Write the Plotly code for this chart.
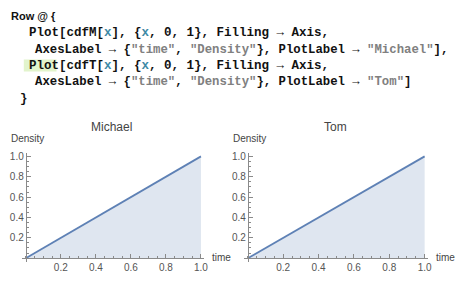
import plotly.graph_objects as go

# ---- data ----
time_points = [0.0, 1.0]
cdf_michael = [0.0, 1.0]
cdf_tom = [0.0, 1.0]
tick_vals = [0.2, 0.4, 0.6, 0.8, 1.0]
tick_text = ["0.2", "0.4", "0.6", "0.8", "1.0"]
panel_titles = ["Michael", "Tom"]
axis_labels = ["time", "Density"]

W, H = 467, 282
def px(v):
    return v / W
def py(v):
    return 1 - v / H

LINE = "#5E81B5"
FILL = "rgba(94,129,181,0.2)"
AXC = "#8a8a8a"
TXT = "#555555"

fig = go.Figure()
fig.add_trace(go.Scatter(x=time_points, y=cdf_michael, mode="lines",
                         line=dict(color=LINE, width=1.8), fill="tozeroy",
                         fillcolor=FILL, xaxis="x", yaxis="y", hoverinfo="skip"))
fig.add_trace(go.Scatter(x=time_points, y=cdf_tom, mode="lines",
                         line=dict(color=LINE, width=1.8), fill="tozeroy",
                         fillcolor=FILL, xaxis="x2", yaxis="y2", hoverinfo="skip"))

# pixel geometry of the two panels
y0_px, yunit = 258.0, 102.5
yr = [-0.04, 1.03]
ydom = [py(y0_px - yr[0] * yunit), py(y0_px - yr[1] * yunit)]
xr = [-0.023, 1.02]
panels = [(26.0, 176.7), (250.0, 178.3)]

tickfont = dict(family="Liberation Sans", size=10, color=TXT)

def xaxis_cfg(x0, unit):
    return dict(domain=[px(x0 + xr[0] * unit), px(x0 + xr[1] * unit)], range=xr,
                anchor="free", position=py(y0_px), showline=True, linecolor=AXC,
                linewidth=1, ticks="inside", ticklen=4, tickcolor=AXC,
                tickmode="array", tickvals=tick_vals, ticktext=tick_text,
                tickfont=tickfont, showgrid=False, zeroline=False, fixedrange=True,
                minor=dict(dtick=0.05, tick0=0, ticks="inside", ticklen=2,
                           tickcolor=AXC, showgrid=False))

def yaxis_cfg(x0):
    return dict(domain=ydom, range=yr, anchor="free", position=px(x0),
                showline=True, linecolor=AXC, linewidth=1, ticks="inside",
                ticklen=4, tickcolor=AXC, tickmode="array", tickvals=tick_vals,
                ticktext=tick_text, tickfont=tickfont, showgrid=False,
                zeroline=False, fixedrange=True,
                minor=dict(dtick=0.05, tick0=0, ticks="inside", ticklen=2,
                           tickcolor=AXC, showgrid=False))

fig.update_layout(
    xaxis=xaxis_cfg(*panels[0]),
    yaxis=yaxis_cfg(panels[0][0]),
    xaxis2=xaxis_cfg(*panels[1]),
    yaxis2=yaxis_cfg(panels[1][0]),
)

ann = []
# panel labels
for (x0, unit), title, tx in zip(panels, panel_titles, [112, 338]):
    ann.append(dict(x=px(tx), y=py(126), xref="paper", yref="paper", text=title,
                    showarrow=False, xanchor="center", yanchor="middle",
                    font=dict(family="Liberation Sans", size=12, color="#444444")))
    ann.append(dict(x=px(x0 - 17), y=py(137), xref="paper", yref="paper",
                    text=axis_labels[1], showarrow=False, xanchor="left",
                    yanchor="middle",
                    font=dict(family="Liberation Sans", size=10, color="#444444")))
    ann.append(dict(x=px(x0 + xr[1] * unit + 6), y=py(257), xref="paper",
                    yref="paper", text=axis_labels[0], showarrow=False,
                    xanchor="left", yanchor="middle",
                    font=dict(family="Liberation Sans", size=10, color="#444444")))

# code cell
V = "#3E8AA6"
S = "#808080"
def v(t):
    return f'<span style="color:{V}">{t}</span>'
def s(t):
    return f'<span style="color:{S}">{t}</span>'

code_lines = [
    (9, 14, "Row @ {", "Liberation Sans", 11),
    (27, 31, f"Plot[cdfM[{v('x')}], {{{v('x')}, 0, 1}}, Filling \u2192 Axis,", "Liberation Mono", 12.5),
    (33, 48, f"AxesLabel \u2192 {{{s(chr(34) + 'time' + chr(34))}, {s(chr(34) + 'Density' + chr(34))}}}, PlotLabel \u2192 {s(chr(34) + 'Michael' + chr(34))}],", "Liberation Mono", 12.3),
    (27, 64, f"Plot[cdfT[{v('x')}], {{{v('x')}, 0, 1}}, Filling \u2192 Axis,", "Liberation Mono", 12.5),
    (33, 81, f"AxesLabel \u2192 {{{s(chr(34) + 'time' + chr(34))}, {s(chr(34) + 'Density' + chr(34))}}}, PlotLabel \u2192 {s(chr(34) + 'Tom' + chr(34))}]", "Liberation Mono", 12.3),
    (18, 98, "}", "Liberation Mono", 12.5),
]
for x, y, t, fam, size in code_lines:
    ann.append(dict(x=px(x), y=py(y), xref="paper", yref="paper", text=f"<b>{t}</b>",
                    showarrow=False, xanchor="left", yanchor="middle",
                    font=dict(family=fam, size=size, color="#111111")))

fig.update_layout(
    width=W, height=H, margin=dict(l=0, r=0, t=0, b=0),
    paper_bgcolor="white", plot_bgcolor="rgba(0,0,0,0)", showlegend=False,
    annotations=ann,
    shapes=[dict(type="rect", xref="paper", yref="paper", x0=px(24), x1=px(57),
                 y0=py(70), y1=py(58), fillcolor="#E2F4CC", line=dict(width=0),
                 layer="below")],
)

fig.write_html("out.html", config=dict(displayModeBar=False))
